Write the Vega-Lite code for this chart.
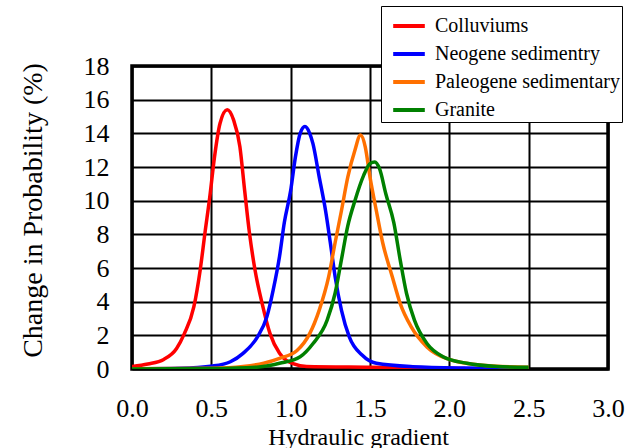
{
  "$schema": "https://vega.github.io/schema/vega-lite/v6.json",
  "width": 476,
  "height": 303,
  "autosize": "none",
  "padding": {"left": 132, "top": 66, "right": 34, "bottom": 79},
  "background": "white",
  "config": {
    "view": {"stroke": "black", "strokeWidth": 3.5},
    "font": "Liberation Serif",
    "style": {"guide-label": {"font": "Liberation Serif"}, "guide-title": {"font": "Liberation Serif"}},
    "legend": {"strokeColor": "black", "fillColor": "white", "padding": 2, "rowPadding": 0, "labelFont": "Liberation Serif", "labelFontSize": 20, "labelColor": "black"}
  },
  "data": {"values": [
    {"x":0.0,"y":0.15,"s":"Colluviums"},{"x":0.1,"y":0.3,"s":"Colluviums"},{"x":0.2,"y":0.57,"s":"Colluviums"},{"x":0.28,"y":1.2,"s":"Colluviums"},{"x":0.33,"y":2.1,"s":"Colluviums"},{"x":0.39,"y":3.7,"s":"Colluviums"},{"x":0.43,"y":5.9,"s":"Colluviums"},{"x":0.46,"y":8.1,"s":"Colluviums"},{"x":0.49,"y":10.2,"s":"Colluviums"},{"x":0.52,"y":12.6,"s":"Colluviums"},{"x":0.555,"y":14.6,"s":"Colluviums"},{"x":0.6,"y":15.4,"s":"Colluviums"},{"x":0.64,"y":14.8,"s":"Colluviums"},{"x":0.68,"y":13.2,"s":"Colluviums"},{"x":0.71,"y":10.6,"s":"Colluviums"},{"x":0.74,"y":8.1,"s":"Colluviums"},{"x":0.775,"y":5.9,"s":"Colluviums"},{"x":0.82,"y":3.9,"s":"Colluviums"},{"x":0.87,"y":2.1,"s":"Colluviums"},{"x":0.93,"y":0.93,"s":"Colluviums"},{"x":1.02,"y":0.3,"s":"Colluviums"},{"x":1.1,"y":0.15,"s":"Colluviums"},{"x":1.5,"y":0.1,"s":"Colluviums"},{"x":1.9,"y":0.05,"s":"Colluviums"},{"x":2.1,"y":0.03,"s":"Colluviums"},
    {"x":0.0,"y":0.02,"s":"Neogene sedimentry"},{"x":0.3,"y":0.05,"s":"Neogene sedimentry"},{"x":0.51,"y":0.18,"s":"Neogene sedimentry"},{"x":0.62,"y":0.43,"s":"Neogene sedimentry"},{"x":0.7,"y":0.93,"s":"Neogene sedimentry"},{"x":0.79,"y":1.9,"s":"Neogene sedimentry"},{"x":0.85,"y":3.1,"s":"Neogene sedimentry"},{"x":0.89,"y":4.7,"s":"Neogene sedimentry"},{"x":0.93,"y":6.7,"s":"Neogene sedimentry"},{"x":0.96,"y":8.7,"s":"Neogene sedimentry"},{"x":1.0,"y":10.6,"s":"Neogene sedimentry"},{"x":1.03,"y":12.6,"s":"Neogene sedimentry"},{"x":1.06,"y":14.0,"s":"Neogene sedimentry"},{"x":1.09,"y":14.4,"s":"Neogene sedimentry"},{"x":1.12,"y":14.0,"s":"Neogene sedimentry"},{"x":1.14,"y":13.4,"s":"Neogene sedimentry"},{"x":1.18,"y":11.4,"s":"Neogene sedimentry"},{"x":1.22,"y":9.4,"s":"Neogene sedimentry"},{"x":1.25,"y":7.5,"s":"Neogene sedimentry"},{"x":1.28,"y":5.5,"s":"Neogene sedimentry"},{"x":1.32,"y":3.5,"s":"Neogene sedimentry"},{"x":1.37,"y":1.9,"s":"Neogene sedimentry"},{"x":1.45,"y":0.83,"s":"Neogene sedimentry"},{"x":1.54,"y":0.34,"s":"Neogene sedimentry"},{"x":1.77,"y":0.14,"s":"Neogene sedimentry"},{"x":2.1,"y":0.06,"s":"Neogene sedimentry"},{"x":2.5,"y":0.03,"s":"Neogene sedimentry"},
    {"x":0.0,"y":0.02,"s":"Paleogene sedimentary"},{"x":0.5,"y":0.05,"s":"Paleogene sedimentary"},{"x":0.7,"y":0.15,"s":"Paleogene sedimentary"},{"x":0.83,"y":0.34,"s":"Paleogene sedimentary"},{"x":0.93,"y":0.63,"s":"Paleogene sedimentary"},{"x":1.04,"y":1.1,"s":"Paleogene sedimentary"},{"x":1.12,"y":2.1,"s":"Paleogene sedimentary"},{"x":1.18,"y":3.5,"s":"Paleogene sedimentary"},{"x":1.24,"y":5.5,"s":"Paleogene sedimentary"},{"x":1.28,"y":7.5,"s":"Paleogene sedimentary"},{"x":1.32,"y":9.4,"s":"Paleogene sedimentary"},{"x":1.36,"y":11.4,"s":"Paleogene sedimentary"},{"x":1.405,"y":13.0,"s":"Paleogene sedimentary"},{"x":1.44,"y":13.9,"s":"Paleogene sedimentary"},{"x":1.47,"y":13.2,"s":"Paleogene sedimentary"},{"x":1.5,"y":11.4,"s":"Paleogene sedimentary"},{"x":1.54,"y":9.4,"s":"Paleogene sedimentary"},{"x":1.58,"y":7.5,"s":"Paleogene sedimentary"},{"x":1.64,"y":5.5,"s":"Paleogene sedimentary"},{"x":1.69,"y":3.9,"s":"Paleogene sedimentary"},{"x":1.76,"y":2.5,"s":"Paleogene sedimentary"},{"x":1.86,"y":1.3,"s":"Paleogene sedimentary"},{"x":1.98,"y":0.63,"s":"Paleogene sedimentary"},{"x":2.19,"y":0.24,"s":"Paleogene sedimentary"},{"x":2.5,"y":0.1,"s":"Paleogene sedimentary"},
    {"x":0.0,"y":0.0,"s":"Granite"},{"x":0.5,"y":0.03,"s":"Granite"},{"x":0.8,"y":0.12,"s":"Granite"},{"x":0.93,"y":0.34,"s":"Granite"},{"x":1.06,"y":0.73,"s":"Granite"},{"x":1.14,"y":1.5,"s":"Granite"},{"x":1.23,"y":2.9,"s":"Granite"},{"x":1.28,"y":4.5,"s":"Granite"},{"x":1.32,"y":6.5,"s":"Granite"},{"x":1.36,"y":8.5,"s":"Granite"},{"x":1.405,"y":10.0,"s":"Granite"},{"x":1.46,"y":11.5,"s":"Granite"},{"x":1.5,"y":12.2,"s":"Granite"},{"x":1.53,"y":12.3,"s":"Granite"},{"x":1.56,"y":11.9,"s":"Granite"},{"x":1.6,"y":10.4,"s":"Granite"},{"x":1.65,"y":8.7,"s":"Granite"},{"x":1.69,"y":6.5,"s":"Granite"},{"x":1.73,"y":4.5,"s":"Granite"},{"x":1.78,"y":2.9,"s":"Granite"},{"x":1.86,"y":1.5,"s":"Granite"},{"x":1.96,"y":0.73,"s":"Granite"},{"x":2.11,"y":0.34,"s":"Granite"},{"x":2.3,"y":0.15,"s":"Granite"},{"x":2.5,"y":0.1,"s":"Granite"}
  ]},
  "mark": {"type": "line", "strokeWidth": 3.5, "interpolate": "monotone", "clip": true},
  "encoding": {
    "x": {
      "field": "x", "type": "quantitative",
      "scale": {"domain": [0, 3], "nice": false},
      "axis": {
        "values": [0, 0.5, 1, 1.5, 2, 2.5, 3], "format": ".1f",
        "title": "Hydraulic gradient", "titleFont": "Liberation Serif", "titleFontSize": 24, "titleFontWeight": "normal", "titleColor": "black",
        "titleX": 226, "titleY": 75, "titleBaseline": "alphabetic", "titleAnchor": "middle", "titleAlign": "center",
        "labelFont": "Liberation Serif", "labelFontSize": 26, "labelColor": "black", "labelPadding": 39, "labelBaseline": "middle", "labelFlush": false,
        "ticks": false, "domain": false,
        "grid": true, "gridColor": "black", "gridWidth": 2, "gridOpacity": 1
      }
    },
    "y": {
      "field": "y", "type": "quantitative",
      "scale": {"domain": [0, 18], "nice": false},
      "axis": {
        "values": [0, 2, 4, 6, 8, 10, 12, 14, 16, 18],
        "title": "Change in Probability (%)", "titleFont": "Liberation Serif", "titleFontSize": 28, "titleFontWeight": "normal", "titleColor": "black",
        "titleX": -99, "titleY": 144, "titleAngle": -90, "titleBaseline": "middle", "titleAlign": "center", "titleAnchor": "middle",
        "labelFont": "Liberation Serif", "labelFontSize": 26, "labelColor": "black", "labelPadding": 23, "labelFlush": false,
        "ticks": false, "domain": false,
        "grid": true, "gridColor": "black", "gridWidth": 2, "gridOpacity": 1
      }
    },
    "color": {
      "field": "s", "type": "nominal",
      "scale": {
        "domain": ["Colluviums", "Neogene sedimentry", "Paleogene sedimentary", "Granite"],
        "range": ["#ff0000", "#0000ff", "#ff7000", "#008000"]
      },
      "legend": {
        "orient": "none", "legendX": 249, "legendY": -60,
        "title": null,
        "symbolType": "stroke", "symbolSize": 1000, "symbolStrokeWidth": 4, "symbolOffset": 8,
        "labelFont": "Liberation Serif", "labelFontSize": 20, "labelColor": "black", "labelOffset": 8, "labelLimit": 300
      }
    }
  }
}
